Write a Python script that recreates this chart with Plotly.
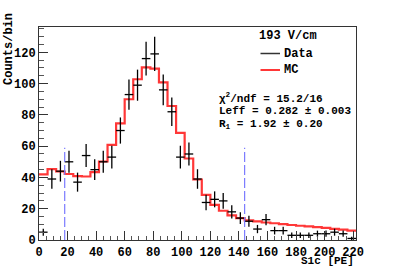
import numpy as np
import plotly.graph_objects as go

# ---- data ----
bin_width = 6.0
n_bins = 37
bin_edges = [i * bin_width for i in range(n_bins + 1)]          # 0 .. 222
bin_centers = [e + bin_width / 2 for e in bin_edges[:-1]]

data_counts = [5, 39, 44, 50, 37, 54, 45, 50, 53, 70, 93, 99, 116, 119, 96, 82,
               53, 55, 39, 24, 26, 25, 18, 14, 12, 7, 13, 6, 6, 3, 3, 3, 4, 4,
               5, 4, 1]
data_errors = [float(np.sqrt(c)) for c in data_counts]

mc_counts = [42.0, 45.3, 43.8, 42.2, 40.9, 40.6, 43.4, 50.2, 60.8, 74.6, 90.0,
             102.8, 110.4, 109.6, 100.8, 85.7, 68.5, 52.1, 38.7, 28.9, 22.5,
             18.7, 15.7, 14.0, 12.5, 11.9, 11.2, 10.7, 10.2, 9.6, 9.1, 8.7,
             8.2, 7.7, 7.1, 6.6, 6.0]

cut_positions = [18, 144]
cut_height = 59

x_ticks = list(range(0, 221, 20))
y_ticks = list(range(0, 121, 20))
x_range = [0, 222]
y_range = [0, 136.2]

header_text = "193 V/cm"
legend_labels = ["Data", "MC"]
stats_lines = ["χ<sup>2</sup>/ndf = 15.2/16",
               "Leff = 0.282 ± 0.003",
               "R<sub>1</sub> = 1.92 ± 0.20"]

# ---- styling ----
FONT = "Liberation Mono, Courier New, monospace"
W, H = 395, 267
ML, MR, MT, MB = 39, 39, 27, 27
PW, PH = W - ML - MR, H - MT - MB


def px(x):
    return (x - ML) / PW


def py(y):
    return (H - MB - y) / PH


fig = go.Figure()

# MC histogram (step)
fig.add_trace(go.Scatter(
    x=bin_edges, y=mc_counts + [mc_counts[-1]],
    mode="lines", line=dict(color="rgba(255,20,20,0.85)", width=2.2, shape="hv"),
    showlegend=False, hoverinfo="skip"))

# Data crosses
fig.add_trace(go.Scatter(
    x=bin_centers, y=data_counts, mode="markers",
    marker=dict(size=1, color="black"),
    error_x=dict(type="constant", value=bin_width / 2, color="black",
                 thickness=1.3, width=0),
    error_y=dict(type="data", array=data_errors, color="black",
                 thickness=1.3, width=0),
    showlegend=False))

# cut lines
for c in cut_positions:
    fig.add_trace(go.Scatter(
        x=[c, c], y=[0, cut_height], mode="lines",
        line=dict(color="#7b7bff", width=1.2, dash="10px,3px"),
        showlegend=False, hoverinfo="skip"))

axis_common = dict(
    showgrid=False, zeroline=False, showline=True, mirror=True,
    linecolor="#333", linewidth=1, automargin=False,
    ticks="inside", ticklen=9, tickwidth=1, tickcolor="#333",
    tickfont=dict(family=FONT, size=12, color="black", weight="bold"),
    minor=dict(ticks="inside", ticklen=4.5, tickwidth=1, tickcolor="#555", dtick=5),
)

fig.update_layout(
    width=W, height=H,
    margin=dict(l=ML, r=MR, t=MT, b=MB, pad=0),
    paper_bgcolor="white", plot_bgcolor="white",
    showlegend=False,
    xaxis=dict(range=x_range, tickvals=x_ticks, ticklabelstandoff=1, **axis_common),
    yaxis=dict(range=y_range, tickvals=y_ticks, **axis_common),
)

annotations = [
    dict(text="Counts/bin", x=px(9), y=py(49), textangle=-90,
         xanchor="center", yanchor="middle",
         font=dict(family=FONT, size=12, color="black", weight="bold")),
    dict(text="S1c [PE]", x=px(356), y=py(261), xanchor="right", yanchor="middle",
         font=dict(family=FONT, size=11, color="black", weight="bold")),
    dict(text=header_text, x=px(288), y=py(36), xanchor="center", yanchor="middle",
         font=dict(family=FONT, size=12, color="black", weight="bold")),
    dict(text=legend_labels[0], x=px(282), y=py(53.5), xanchor="left", yanchor="middle",
         font=dict(family=FONT, size=12, color="black", weight="bold")),
    dict(text=legend_labels[1], x=px(282), y=py(70), xanchor="left", yanchor="middle",
         font=dict(family=FONT, size=12, color="black", weight="bold")),
]
stats_y = [98.5, 111.5, 124.3]
for t, yy in zip(stats_lines, stats_y):
    annotations.append(dict(text=t, x=px(217), y=py(yy), xanchor="left", yanchor="middle",
                            font=dict(family=FONT, size=11, color="black", weight="bold")))
for a in annotations:
    a.update(xref="paper", yref="paper", showarrow=False)
fig.update_layout(annotations=annotations)

shapes = [
    dict(type="line", xref="paper", yref="paper", x0=px(260.5), x1=px(280),
         y0=py(53.5), y1=py(53.5), line=dict(color="#333", width=1.5)),
    dict(type="line", xref="paper", yref="paper", x0=px(260.5), x1=px(280),
         y0=py(70), y1=py(70), line=dict(color="rgba(255,20,20,0.85)", width=2)),
]
fig.update_layout(shapes=shapes)

fig.write_html("out.html",
               config={"displayModeBar": False, "staticPlot": True},
               post_script="document.body.style.margin='0px';")
